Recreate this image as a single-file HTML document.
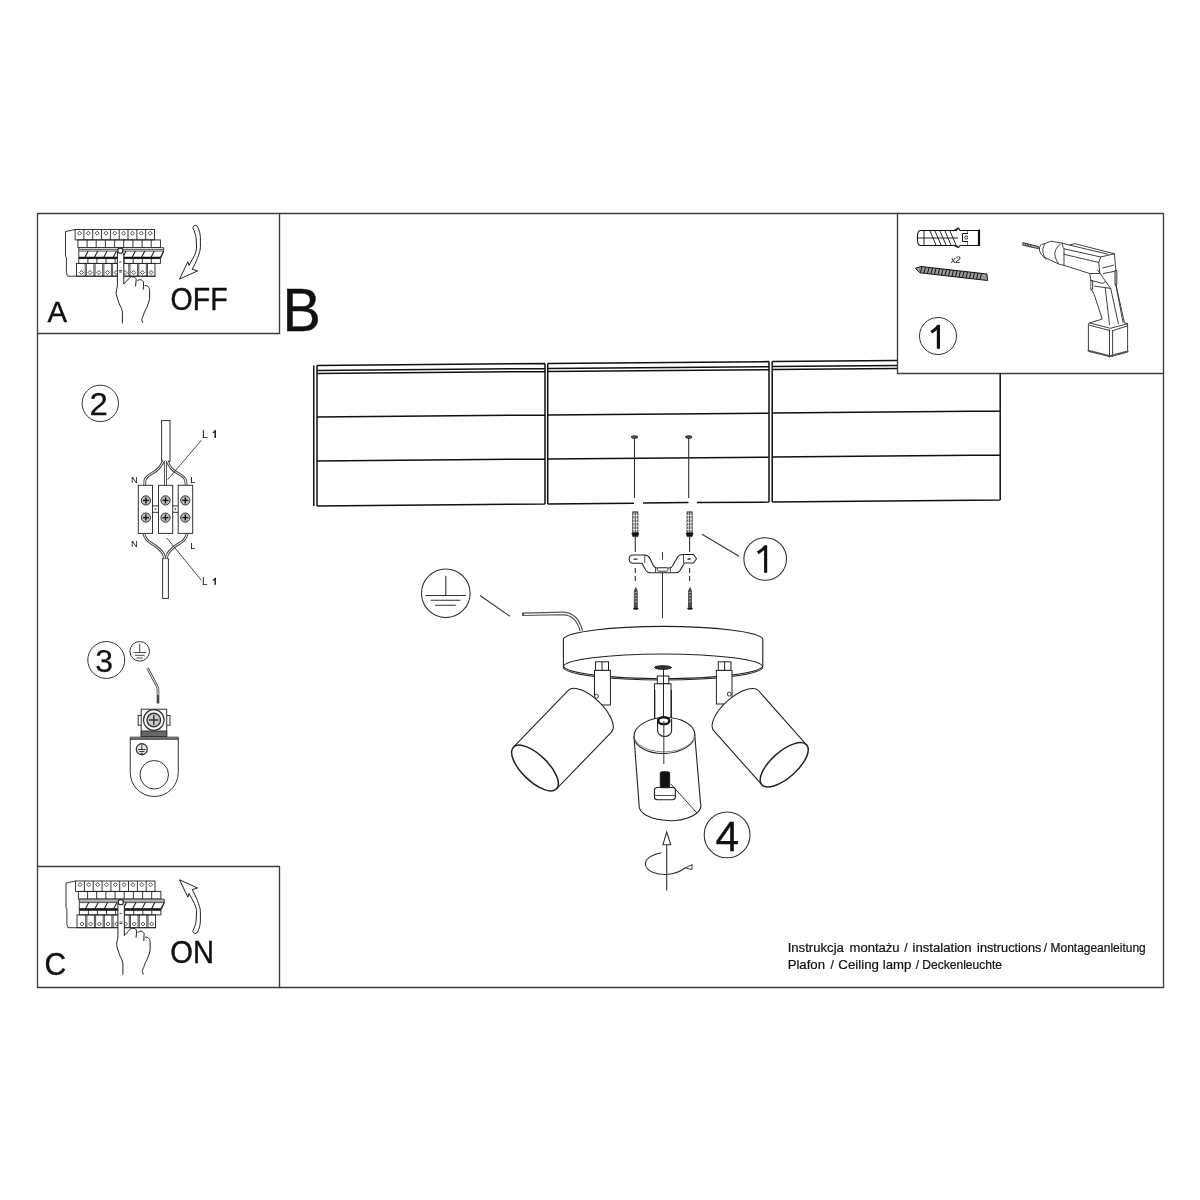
<!DOCTYPE html>
<html><head><meta charset="utf-8"><title>Installation instructions</title>
<style>
html,body{margin:0;padding:0;background:#fff;width:1200px;height:1200px;overflow:hidden}
svg{display:block}
text{font-family:"Liberation Sans",sans-serif;fill:#111}
.t{will-change:transform}
</style></head><body>
<svg class="t" width="1200" height="1200" viewBox="0 0 1200 1200">
<rect x="0" y="0" width="1200" height="1200" fill="#fff"/>
<g fill="none" stroke="#3c3c3c" stroke-width="1.35" stroke-linejoin="round" stroke-linecap="round">
<!-- outer frame -->
<rect x="37.5" y="213.5" width="1126" height="774"/>
<!-- box A -->
<path d="M37.5 333.5H279.5V213.5"/>
<!-- box C -->
<path d="M37.5 866.5H279.5V987.5"/>
<!-- box 1 top right -->
<path d="M897.5 213.5V373.5H1163.5"/>
</g>

<g id="brk" fill="none" stroke="#222" stroke-width="0.9">
<path d="M75 229.5L65.5 231.6V256L66.4 257.5V272.9L67.5 276.2H155.5"/>
<rect x="75.1" y="229.5" width="79.4" height="10.4"/>
<path d="M83.9 229.5V239.9M92.7 229.5V239.9M101.6 229.5V239.9M110.4 229.5V239.9M119.2 229.5V239.9M128.0 229.5V239.9M136.9 229.5V239.9M145.7 229.5V239.9"/>
<path d="M79.5 231.2l2 2l-2 2l-2-2z" stroke-width="0.8"/>
<path d="M88.3 231.2l2 2l-2 2l-2-2z" stroke-width="0.8"/>
<path d="M97.2 231.2l2 2l-2 2l-2-2z" stroke-width="0.8"/>
<path d="M106.0 231.2l2 2l-2 2l-2-2z" stroke-width="0.8"/>
<path d="M114.8 231.2l2 2l-2 2l-2-2z" stroke-width="0.8"/>
<path d="M123.6 231.2l2 2l-2 2l-2-2z" stroke-width="0.8"/>
<path d="M132.4 231.2l2 2l-2 2l-2-2z" stroke-width="0.8"/>
<path d="M141.3 231.2l2 2l-2 2l-2-2z" stroke-width="0.8"/>
<path d="M150.1 231.2l2 2l-2 2l-2-2z" stroke-width="0.8"/>
<rect x="77.9" y="239.9" width="82.5" height="7.6"/>
<path d="M87.1 239.9V247.5M96.2 239.9V247.5M105.4 239.9V247.5M114.6 239.9V247.5M123.7 239.9V247.5M132.9 239.9V247.5M142.1 239.9V247.5M151.2 239.9V247.5"/>
<path d="M78.8 247.7H163.7V251L161 257.8H78.8Z" fill="#fff"/>
<path d="M79 249.6H163.5M79 251.1H163.5" stroke-width="0.9" stroke="#444"/>
<path d="M88.2 251L84.7 257.8M97.7 251L94.2 257.8M107.1 251L103.6 257.8M116.5 251L113.0 257.8M126.0 251L122.5 257.8M135.4 251L131.9 257.8M144.8 251L141.3 257.8M154.3 251L150.8 257.8M163.7 251L160.2 257.8" stroke-width="1.1"/>
<path d="M78.8 257.8H160.4" stroke-width="2.2" stroke="#111"/>
<rect x="78.8" y="258.6" width="81.6" height="4.8"/>
<path d="M87.9 258.6V263.4M96.9 258.6V263.4M106.0 258.6V263.4M115.1 258.6V263.4M124.1 258.6V263.4M133.2 258.6V263.4M142.3 258.6V263.4M151.3 258.6V263.4"/>
<rect x="76.5" y="263.4" width="78.5" height="12.8"/>
<path d="M85.2 263.4V276.2M86.4 263.4V276.2M93.9 263.4V276.2M95.1 263.4V276.2M102.7 263.4V276.2M103.9 263.4V276.2M111.4 263.4V276.2M112.6 263.4V276.2M120.1 263.4V276.2M121.3 263.4V276.2M128.8 263.4V276.2M130.0 263.4V276.2M137.6 263.4V276.2M138.8 263.4V276.2M146.3 263.4V276.2M147.5 263.4V276.2" stroke-width="0.8"/>
<path d="M81.4 270.5l2 2l-2 2l-2-2z" stroke-width="0.8"/>
<path d="M90.1 270.5l2 2l-2 2l-2-2z" stroke-width="0.8"/>
<path d="M98.8 270.5l2 2l-2 2l-2-2z" stroke-width="0.8"/>
<path d="M107.5 270.5l2 2l-2 2l-2-2z" stroke-width="0.8"/>
<path d="M116.2 270.5l2 2l-2 2l-2-2z" stroke-width="0.8"/>
<path d="M125.0 270.5l2 2l-2 2l-2-2z" stroke-width="0.8"/>
<path d="M133.7 270.5l2 2l-2 2l-2-2z" stroke-width="0.8"/>
<path d="M142.4 270.5l2 2l-2 2l-2-2z" stroke-width="0.8"/>
<path d="M151.1 270.5l2 2l-2 2l-2-2z" stroke-width="0.8"/>
<rect x="117.4" y="252" width="6.4" height="34" fill="#fff" stroke="none"/>
<path d="M117.4 252V286C116.5 290 115.8 293 116.3 294.6C117 298 118.5 301 119.2 303.8C121 307 122.2 310 122.4 312.3V323.3" stroke-width="1"/>
<path d="M123.8 252.8V284L129.8 277.6C131 276.5 132 276.7 133.3 276.9C135 277.3 136 278 136.2 279.5L135.5 286.4M137.2 281.1C138 280 139 279.7 140.4 279.7C142 280 143 281 143.6 281.8L143.3 289.6M144.7 285.4C146 285.5 147 285.8 147.5 286.1C149 287.5 149.6 289 149.6 290.3V298.8C149 302 148 304.5 146.8 307.3C145 311 143.5 314 143.3 315.8C142 318 141.6 320 141.8 320.1L142.9 322.9" stroke-width="1"/>
<circle cx="120.3" cy="250.7" r="2.6" fill="#fff" stroke-width="1.1"/>
<path d="M119 262.5l2.5-0.8M119 270.5h3M119 272h3" stroke-width="0.8"/>
</g>


<!-- arrows A / C -->
<path id="arrA" d="M195.2 225.4C193.6 225.5 192.6 226.8 193 228.3C194.3 231.5 195.8 234.5 196.1 238L196.6 248.2C196.2 251 195.5 253 194.4 255.5L189 265.5L187.9 261.7L179.5 279.1L197.6 270.9L192.2 269.3C194.5 265 196.5 261 197.3 258.5C199 254 200.2 251 200.4 247.5L200.4 237.3C200.1 233.5 199.3 230.5 198.2 228.1C197.5 226.2 196.5 225.4 195.2 225.4Z" fill="#fff" stroke="#222" stroke-width="1"/>
<use href="#arrA" transform="translate(0 1158.9) scale(1 -1)"/>
<use href="#brk" transform="translate(0.5 651.5)"/>
<!-- diagram 2 -->
<g fill="none" stroke="#333" stroke-width="1">
<circle cx="100.3" cy="403.4" r="18.2"/>
<rect x="161.6" y="420.6" width="8.4" height="40.8"/>
<rect x="162.6" y="558.6" width="5.8" height="39.8"/>
</g>
<g fill="none" stroke="#444" stroke-width="2.8">
<path id="w1" d="M163.5 461C161 466 158 470 153.5 472.5C149 475 146 477 145 480L144.7 485.3"/>
<path id="w2" d="M167.3 461C169 466 172 470 176.5 472.5C181 475 184.5 477 185.6 480L186.2 485.3"/>
<path id="w3" d="M165.5 461V485.3"/>
<path id="w4" d="M143.8 533.4C145 538 147 541 151 543C156 546 161 550 163.5 554L164.6 558.6"/>
<path id="w5" d="M187.4 533.4C186 538 184 541 180 543C175 546 170 550 167.5 554L166.3 558.6"/>
</g>
<g fill="none" stroke="#fff" stroke-width="1">
<use href="#w1"/><use href="#w2"/><use href="#w3"/><use href="#w4"/><use href="#w5"/>
</g>
<g fill="#fff" stroke="#333" stroke-width="1">
<rect x="138.3" y="485.3" width="14.2" height="48.1"/>
<rect x="158.5" y="485.3" width="14.2" height="48.1"/>
<rect x="178.2" y="485.3" width="14.5" height="48.1"/>
<path d="M152.5 505.9H158.5M152.5 512.3H158.5M172.7 505.9H178.2M172.7 512.3H178.2" fill="none"/>
</g>
<g fill="#fff" stroke="#333" stroke-width="1">
<circle cx="145.9" cy="500.4" r="4.6" fill="#bbb"/><circle cx="145.9" cy="517.6" r="4.6" fill="#bbb"/>
<circle cx="165.5" cy="500.4" r="4.6" fill="#bbb"/><circle cx="165.5" cy="517.6" r="4.6" fill="#bbb"/>
<circle cx="185.3" cy="500.4" r="4.6" fill="#bbb"/><circle cx="185.3" cy="517.6" r="4.6" fill="#bbb"/>
</g>
<g fill="none" stroke="#111" stroke-width="1.4">
<path d="M142.9 500.4H148.9M145.9 497.4V503.4M142.9 517.6H148.9M145.9 514.6V520.6M162.5 500.4H168.5M165.5 497.4V503.4M162.5 517.6H168.5M165.5 514.6V520.6M182.3 500.4H188.3M185.3 497.4V503.4M182.3 517.6H188.3M185.3 514.6V520.6"/>
</g>
<circle cx="155.5" cy="509.1" r="0.8" fill="#222"/><circle cx="175.4" cy="509.1" r="0.8" fill="#222"/>
<g fill="none" stroke="#333" stroke-width="0.9">
<path d="M201.3 440.4L167.7 479.6M166.8 538L201.3 580.2"/>
</g>
<g font-size="9.4">
<text x="130.9" y="482.6">N</text><text x="190.3" y="482.6">L</text>
<text x="130.9" y="546.5">N</text><text x="190.3" y="549">L</text>
<text x="202.1" y="437.9" font-size="10.6">L</text>
<text x="202.1" y="584.8" font-size="10">L</text>
</g>
<path d="M215.9 430V437.9H214.5V432.2C213.9 432.8 213.4 433.1 212.8 433.3V432.2C213.8 431.6 214.4 430.9 214.8 430Z" fill="#111"/>
<path d="M215.9 577.7V584.8H214.5V579.8C213.9 580.4 213.4 580.7 212.7 580.9V579.8C213.7 579.2 214.4 578.6 214.8 577.7Z" fill="#111"/>
<text transform="translate(89.5 415.4) scale(1.08 1)" font-size="30.5" stroke="#111" stroke-width="0.25">2</text>
<!-- diagram 3 -->
<g fill="none" stroke="#333" stroke-width="1">
<circle cx="106.25" cy="660" r="18.45"/>
<circle cx="139.7" cy="651.3" r="9.8"/>
<path d="M139.7 643.5V652.5M133.5 652.5H146M135 655.3H144.5M136.5 658H143" stroke-width="0.9"/>
</g>
<path d="M147.5 668.2L157 686C157.8 687.5 158 688.5 158 690V703.5" fill="none" stroke="#444" stroke-width="2.6"/>
<path d="M147.5 668.2L157 686C157.8 687.5 158 688.5 158 690V695" fill="none" stroke="#fff" stroke-width="0.9"/>
<g fill="#fff" stroke="#333" stroke-width="1">
<path d="M130.25 737.2H178.25V772.5A24 24 0 0 1 130.25 772.5Z"/>
<path d="M130.25 739H178.25" stroke-width="1.6"/>
<circle cx="154.25" cy="774.75" r="14.25"/>
<circle cx="141.8" cy="749.25" r="5.5" fill="#e8e8e8" stroke-width="1.3"/>
<path d="M141.8 745V749.5M138 749.5H145.6M139.2 751.5H144.4M140.5 753.3H143" stroke="#222" stroke-width="0.9"/>
<rect x="138.2" y="715.5" width="4" height="9.7"/>
<rect x="166.5" y="715.5" width="3.5" height="9.7"/>
<rect x="141.2" y="709.2" width="25.5" height="27.3"/>
<rect x="141.2" y="731" width="25.5" height="5.5" fill="#666"/>
<circle cx="153.8" cy="720" r="10.3" stroke-width="1.2"/>
<circle cx="153.8" cy="720" r="6.8" fill="#ccc" stroke-width="1.4"/>
<path d="M149 720H158.6M153.8 715.2V724.8" stroke-width="1.5"/>
</g>
<text x="95.2" y="672.4" font-size="32" stroke="#111" stroke-width="0.25">3</text>
<!-- drill box parts -->
<g fill="#fff" stroke="#111" stroke-width="1.1" stroke-linejoin="round">
<path d="M920 230.5C916.5 231.5 916.5 244.5 920 245.5H956L958.5 247.5L960 245.5H968V230.5H960L958.5 228L956 230.5Z"/>
<path d="M924 231V245M930 231L936 245M935 231L941 245M940 231L946 245M945 231L951 245M950 231L956 245M917.5 238H958M953 231L958 228M953 245L958 247.5" stroke-width="0.9"/>
<rect x="962.5" y="233.5" width="11" height="8" stroke-width="1"/>
<circle cx="966.3" cy="237.5" r="1.6" stroke-width="0.9"/><circle cx="970" cy="237.5" r="1.6" stroke-width="0.9"/>
<path d="M968 230.5H979V245.5H968"/>
<path d="M979 229.5V246" stroke-width="2.2"/>
</g>
<g fill="#999" stroke="#111" stroke-width="1">
<path d="M915.4 268.3L921 266.5L987 274L987.5 280.5L920 272.8Z"/>
</g>
<path d="M922 266.8L920.5 272.5M925.5 267.2L924 273M929 267.6L927.5 273.4M932.5 268L931 273.8M936 268.4L934.5 274.2M939.5 268.8L938 274.6M943 269.2L941.5 275M946.5 269.6L945 275.4M950 270L948.5 275.8M953.5 270.4L952 276.2M957 270.8L955.5 276.6M960.5 271.2L959 277M964 271.6L962.5 277.4M967.5 272L966 277.8M971 272.4L969.5 278.2M974.5 272.8L973 278.6M978 273.2L976.5 279M981.5 273.6L980 279.4" stroke="#111" stroke-width="1" fill="none"/>
<text transform="translate(950.5 262.5) skewX(-8)" font-size="9.5" letter-spacing="-0.3">x2</text>
<circle cx="938" cy="336" r="18.5" fill="none" stroke="#333" stroke-width="1"/>
<path d="M940 324.8V348.7H936.8V330C935 331.5 933.5 332.6 932 333.4L930.4 331C933 329.5 935.5 327.5 937.3 324.8Z" fill="#111"/>
<!-- drill -->
<g fill="#fff" stroke="#2a2a2a" stroke-width="0.9" stroke-linejoin="round" stroke-linecap="round">
<path d="M1023.2 242.8L1038.5 246.5L1038.3 248.6L1023.2 245.3Z" fill="#aaa"/>
<path d="M1025 243.2L1026 245.6M1027.5 243.8L1028.5 246.2M1030 244.4L1031 246.8" stroke-width="0.7"/>
<path d="M1039.3 248.8C1039.5 246.5 1040.5 245 1041.5 244.6L1051.2 241.2L1062.2 243.2L1069.5 245.1L1075 243.7L1114.4 253.8L1115.8 269.8L1116 285.3L1124.5 322.9L1127.6 323.7V352.1L1109.9 356.7L1088.4 351.3V323.7L1089.6 322.9L1102.2 319.1L1094.2 294.5L1090.7 288.4V279.2L1089.7 273.5L1064 265.3L1059.4 264.3L1043.8 257C1041 255 1039.3 251.5 1039.3 248.8Z"/>
<path d="M1044.8 244.2C1043 247 1042.5 250 1042.9 251.5C1043.3 255 1044.5 257.5 1045.7 259.3M1060.3 244.2C1057 247 1055 250 1054.8 253.3C1055 257.5 1056.5 261 1058.5 263.4M1062.2 243.2C1062.5 246 1063 247.5 1064 248.8V265.3" fill="none"/>
<path d="M1064 248.8L1100.7 257L1114.4 253.8M1064 254.3L1098.8 262.5M1069.5 245.1L1108 254.2M1100.7 257L1098.8 262.5L1099.8 273.5L1089.7 273.5M1102.5 268L1113.5 265.2M1103.4 273.5L1115.3 271.2" fill="none"/>
<path d="M1090.4 280.7H1092.7V289.2H1090.7" fill="#ccc"/>
<path d="M1092.3 280.7L1102.6 283.4L1105.7 281.5M1094.6 286.1L1110.7 288.4M1105.3 288.4L1109.5 324.5M1097.6 270L1105.7 281.5L1110.7 288.4L1118.4 323.7M1116 270V285.3M1116 285.3L1123 322.2" fill="none"/>
<path d="M1114.8 271V284.5H1117V271Z" fill="#999" stroke-width="0.6"/>
<path d="M1089.6 322.9L1110.3 328.3L1127.6 323.7M1089.6 325.2L1109.9 330.6M1113 330.6L1126.8 326M1109.5 329.8V357.1M1112.6 330.6V356.5" fill="none"/>
<path d="M1088.4 350.5L1109.9 356L1127.6 351.3" fill="none" stroke="#555" stroke-width="1.8"/>
</g>

<!-- ceiling boards -->
<g fill="none" stroke="#111" stroke-width="1.5">
<path d="M317 365.5L545 363.5M317 370.5L545 368.5M317 373.5L545 371.5M317 417.0L545 415.0M317 461.0L545 459.0M317 506.0L545 504.0M313.75 365.5V506.0M317 365.5V506.0M545 363.5V504.0M547.7 363.5L769 361.6M547.7 368.5L769 366.6M547.7 371.5L769 369.6M547.7 415.0L769 413.1M547.7 459.0L769 457.1M547.7 504.0L634 503.2M643 503.1L688.5 502.6M697 502.5L769 502.1M547.7 363.5V504.0M769 361.6V502.1M772.2 361.5L897 360.4M772.2 366.5L897 365.4M772.2 369.5L897 368.4M772.2 413.0L1000.2 411.0M772.2 457.0L1000.2 455.0M772.2 502.0L1000.2 500.0M772.2 361.5V502.0M1000.2 373.5V500.0"/>
</g>
<!-- pins through ceiling -->
<g fill="none" stroke="#333" stroke-width="1.1">
<path d="M634.5 437V498M688.7 437V498"/>
<ellipse cx="634.5" cy="437" rx="3" ry="1.2" fill="#555"/>
<ellipse cx="688.7" cy="437" rx="3" ry="1.2" fill="#555"/>
<!-- dowels -->
<path d="M635.3 537V552M689.6 537V552"/>
<path d="M635.3 568V582M689.6 568V582" stroke-dasharray="5 3"/>
</g>
<g><rect x="632.8" y="511.9" width="5" height="21" fill="#bbb" stroke="#222" stroke-width="0.9"/><path d="M632.8 515.5h5M632.8 519h5M632.8 522.5h5M632.8 526h5M632.8 529.5h5" stroke="#fff" stroke-width="1"/><path d="M635.3 512V532" stroke="#444" stroke-width="0.8"/><path d="M631.8 533h7l-1 3.6h-5z" fill="#111" stroke="#111" stroke-width="0.6"/><rect x="687.1" y="511.9" width="5" height="21" fill="#bbb" stroke="#222" stroke-width="0.9"/><path d="M687.1 515.5h5M687.1 519h5M687.1 522.5h5M687.1 526h5M687.1 529.5h5" stroke="#fff" stroke-width="1"/><path d="M689.6 512V532" stroke="#444" stroke-width="0.8"/><path d="M686.1 533h7l-1 3.6h-5z" fill="#111" stroke="#111" stroke-width="0.6"/><path d="M635.8 587.5L637.3 591V607H634.3V591Z" fill="#555" stroke="#222" stroke-width="0.7"/><path d="M634.3 593l3 -1M634.3 596l3 -1M634.3 599l3 -1M634.3 602l3 -1" stroke="#ddd" stroke-width="0.6"/><ellipse cx="635.8" cy="608.5" rx="2.8" ry="1.3" fill="#111"/><path d="M690.0 587.5L691.5 591V607H688.5V591Z" fill="#555" stroke="#222" stroke-width="0.7"/><path d="M688.5 593l3 -1M688.5 596l3 -1M688.5 599l3 -1M688.5 602l3 -1" stroke="#ddd" stroke-width="0.6"/><ellipse cx="690.0" cy="608.5" rx="2.8" ry="1.3" fill="#111"/></g>
<!-- bracket -->
<g fill="#fff" stroke="#222" stroke-width="1.1" stroke-linejoin="round">
<path d="M633 555H644.7C647 555 648.5 556 650 558.5L653.5 566C654.5 567.5 655.5 568 657 568H669C670.5 568 671.5 567.5 672.5 566L677 558C678.5 555.5 680 554.5 683 554.5H693.5L696.5 558.8L693.5 563H684.5L680 570.5C679 572 678 572.8 676 572.8H650C648 572.8 647 572 646 570.5L642 563.2H633C630.5 563.2 629.2 561 629.2 559C629.2 557 630.5 555 633 555Z"/>
<path d="M644.7 563.2V555.2M683.5 563V554.8M655.5 572.8V568M670.4 572.8V568" fill="none" stroke-width="0.8"/>
<rect x="657.1" y="567.8" width="11" height="3.4" rx="1.7" stroke-width="0.9"/>
<path d="M633.5 559.2h4M687.5 559h3" stroke-width="1.3"/>
</g>
<!-- centre line -->
<path d="M662.5 552V559.5M662.5 572.8V618" stroke="#333" stroke-width="1" fill="none"/>
<!-- leader 1 + circle -->
<g fill="none" stroke="#333" stroke-width="1.1">
<path d="M702 534.2L739 556.2"/>
<circle cx="765.2" cy="559" r="21.3"/>
<!-- ground symbol -->
<circle cx="445.8" cy="593.3" r="24.3"/>
<path d="M445.8 575.8V595.5M425.3 595.5H465.8M430.5 600.3H460.3M435 605.3H455.8"/>
<path d="M480 595.5L510 616.3"/>
<!-- wire -->
<path d="M522 614.3L563.5 613.4C572 614 578.5 620 581.3 630.8" stroke-width="3.6" stroke="#555" stroke-linecap="butt"/>
<path d="M524 614.3L563.5 613.4C572 614 578.5 620 581.3 630.8" stroke-width="1.3" stroke="#fff" stroke-linecap="butt"/>
</g>
<!-- canopy -->
<g fill="#fff" stroke="#222" stroke-width="1.1">
<path d="M563.4 638.8A100 13.5 0 0 1 762.8 638.8V666.5A100 13.2 0 0 1 563.4 666.5Z"/>
<ellipse cx="663" cy="667" rx="99.7" ry="13" fill="none"/>
</g>
<g fill="#fff" stroke="#222" stroke-width="1">
<!-- left stud -->
<rect x="595.6" y="661.8" width="12.9" height="8.6"/>
<path d="M602 661.8V670.4"/>
<rect x="594.5" y="670.4" width="15.9" height="34.6"/>
<!-- right stud -->
<rect x="718.3" y="661.8" width="12.7" height="8.6"/>
<path d="M724.6 661.8V670.4"/>
<rect x="716.4" y="670.4" width="15.6" height="33.6"/>
<!-- center stud -->
<ellipse cx="663" cy="667.5" rx="8.5" ry="1.8" fill="#333"/>
<rect x="657.3" y="676" width="11.5" height="7.8"/>
<rect x="654.5" y="683.8" width="16.5" height="40"/>
<path d="M663.5 668V764" fill="none"/>
</g>
<!-- left lamp -->
<g transform="translate(535 768) rotate(-46)" fill="#fff" stroke="#222" stroke-width="1.1">
<path d="M0 -30L79 -30A13 30 0 0 1 79 30L0 30Z"/>
<ellipse cx="0" cy="0" rx="13" ry="30" stroke-width="1.5"/>
</g>
<circle cx="596.4" cy="696.3" r="2" fill="#fff" stroke="#222" stroke-width="0.9"/>
<!-- right lamp -->
<g transform="translate(784.2 764.8) rotate(-131.6)" fill="#fff" stroke="#222" stroke-width="1.1">
<path d="M0 -30L72.4 -30A13 30 0 0 1 72.4 30L0 30Z"/>
<ellipse cx="0" cy="0" rx="13" ry="30" stroke-width="1.5"/>
</g>
<circle cx="729.3" cy="694.1" r="2" fill="#fff" stroke="#222" stroke-width="0.9"/>
<!-- center lamp -->
<g fill="#fff" stroke="#222" stroke-width="1.1">
<path d="M634 736.7L639.3 807.9A30.6 15 0 0 0 700.5 803.2L694.7 734.4Z"/>
<ellipse cx="664.4" cy="735.5" rx="30.4" ry="18" transform="rotate(-2.2 664.4 735.5)"/>
<path d="M634.5 738.5A30.4 17 0 0 0 694.5 736" fill="none" stroke="#888" stroke-width="1"/>
<path d="M654.8 690V718M671.4 690V718" fill="none"/>
<path d="M657.6 719V730.5A7 6 0 0 0 671.6 730.5V719" />
<ellipse cx="663.8" cy="720.7" rx="5.6" ry="3.4" stroke-width="2.4" stroke="#111"/>
<path d="M663.8 721V764" fill="none" stroke="#444"/>
<rect x="654.4" y="787.5" width="21" height="12.2" rx="3"/>
<path d="M655 795.5H675" fill="none" stroke-width="0.8"/>
<rect x="660.3" y="771.7" width="9.3" height="16" rx="2" fill="#111"/>
</g>
<path d="M670.8 784L697 813.1" stroke="#333" stroke-width="1" fill="none"/>
<!-- circle 4 and rotate arrow -->
<g fill="none" stroke="#333" stroke-width="1.1">
<circle cx="727.1" cy="834.9" r="22.9"/>
<path d="M666.7 844.7V890.7"/>
<path d="M666.7 832L663 844.7H670.7Z"/>
<path d="M661.3 852.7C651 855 644.5 859 645.5 865C647 872 658 875 667 874.5C674 874 680 872 685.3 867.8"/>
<path d="M685.3 867.8L692.2 864.6L691.8 869.6Z" stroke-width="1"/>
</g>
<text x="715.5" y="850.7" font-size="42.5" stroke="#111" stroke-width="0.3">4</text>
<path d="M767.2 545.2V572.8H764.1V550C762.5 551.5 760.5 553 758.3 554.3L757 551.4C760 549.6 762.5 547.7 764.6 545.2Z" fill="#111"/>

<!-- labels -->
<text transform="translate(47.6 321.8) scale(0.97 1)" font-size="30.3" stroke="#111" stroke-width="0.4">A</text>
<text transform="translate(170.6 310) scale(0.92 1)" font-size="31" stroke="#111" stroke-width="0.4">OFF</text>
<text transform="translate(44.4 974.8) scale(0.97 1)" font-size="31" stroke="#111" stroke-width="0.4">C</text>
<text transform="translate(170.3 962.7) scale(0.94 1)" font-size="31" stroke="#111" stroke-width="0.4">ON</text>
<text transform="translate(282.5 330.8) scale(0.95 1)" font-size="60.5" stroke="#111" stroke-width="0.4">B</text>

<!-- bottom text -->
<g font-size="12" fill="#111" stroke="#111" stroke-width="0.2">
<text transform="translate(787.65 952.4) scale(1.095 1)">Instrukcja</text>
<text transform="translate(849.60 952.4) scale(1.087 1)">montażu</text>
<text transform="translate(904.20 952.4) scale(1.000 1)">/</text>
<text transform="translate(912.50 952.4) scale(1.096 1)">instalation</text>
<text transform="translate(977.10 952.4) scale(1.059 1)">instructions</text>
<text transform="translate(1043.75 952.4) scale(1.000 1)">/</text>
<text transform="translate(1050.50 952.4) scale(0.999 1)">Montageanleitung</text>
<text transform="translate(787.65 969.3) scale(1.098 1)">Plafon</text>
<text transform="translate(830.40 969.3) scale(1.000 1)">/</text>
<text transform="translate(838.30 969.3) scale(1.111 1)">Ceiling</text>
<text transform="translate(882.70 969.3) scale(1.098 1)">lamp</text>
<text transform="translate(915.80 969.3) scale(1.000 1)">/</text>
<text transform="translate(922.29 969.3) scale(1.005 1)">Deckenleuchte</text>
</g>
</svg>
</body></html>
